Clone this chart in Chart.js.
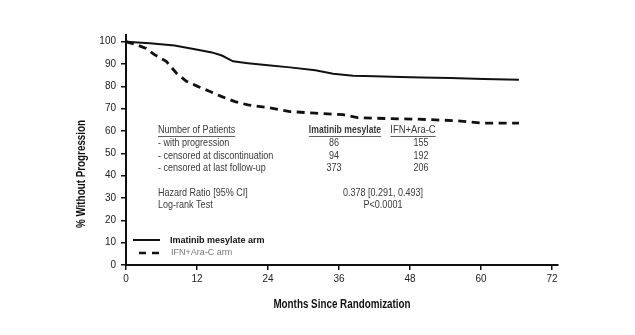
<!DOCTYPE html>
<html>
<head>
<meta charset="utf-8">
<script src="https://cdn.jsdelivr.net/npm/chart.js"></script>
<style>
  html, body { margin: 0; padding: 0; background: #fff; }
  canvas { display: block; }
</style>
</head>
<body>
<canvas id="km" width="635" height="335"></canvas>
<script>
// tick labels
const xTicks = [0, 12, 24, 36, 48, 60, 72];
const yTicks = [0, 10, 20, 30, 40, 50, 60, 70, 80, 90, 100];

// Imatinib mesylate arm
const imatinibMonths = [0, 4, 8.2, 12.1, 14.5, 16.2, 18.1, 20.6, 24, 27.7, 32, 35, 38.4, 42, 46.4, 50, 54.8, 60.4, 66.4];
const imatinibPct = [100, 99.3, 98.3, 96.4, 95.2, 93.8, 91.2, 90.4, 89.5, 88.5, 87.2, 85.6, 84.8, 84.5, 84.2, 84.0, 83.7, 83.3, 83.0];

// IFN+Ara-C arm
const ifnMonths = [0, 1.4, 3.4, 4.8, 6.8, 8.5, 10.2, 12.1, 14.2, 16.1, 18.4, 20.6, 24, 27.7, 32, 36.7, 39.1, 44, 49.3, 56, 60.4, 66.4];
const ifnPct = [100, 99, 97, 94.2, 91.2, 86, 82.3, 80, 77.7, 75.5, 73.2, 71.7, 70.5, 68.7, 68, 67.3, 66, 65.6, 65.3, 64.6, 63.5, 63.5];

// text
const xTitle = "Months Since Randomization";
const yTitle = "% Without Progression";
const seriesNames = ["Imatinib mesylate arm", "IFN+Ara-C arm"];
const tableHeads = ["Number of Patients", "Imatinib mesylate", "IFN+Ara-C"];
const tableRows = ["- with progression", "- censored at discontinuation", "- censored at last follow-up"];
const imatinibCounts = [86, 94, 373];
const ifnCounts = [155, 192, 206];
const statLabels = ["Hazard Ratio [95% CI]", "Log-rank Test"];
const statValues = ["0.378 [0.291, 0.493]", "P<0.0001"];

const plain = "'Liberation Sans', Arial, sans-serif";
const SQUEEZE = 0.82; // no narrow face installed, so squeeze Arial-metric text

const toPoints = (xs, ys) => xs.map((x, i) => ({ x: x, y: ys[i] }));

// draws condensed text, returns its width
function narrowText(ctx, text, x, y, align, underline) {
  const w = ctx.measureText(text).width * SQUEEZE;
  let x0 = x;
  if (align === "center") x0 = x - w / 2;
  if (align === "right") x0 = x - w;
  ctx.save();
  ctx.translate(x0, y);
  ctx.scale(SQUEEZE, 1);
  ctx.textAlign = "left";
  ctx.fillText(text, 0, 0);
  ctx.restore();
  if (underline) ctx.fillRect(x0, y + 6, w, 0.8);
  return w;
}

const annotations = {
  id: "annotations",
  afterDraw(chart) {
    const ctx = chart.ctx;
    ctx.save();
    ctx.textBaseline = "middle";

    // axis titles
    ctx.fillStyle = "#111";
    ctx.font = "bold 12px " + plain;
    narrowText(ctx, xTitle, 342, 305, "center");
    ctx.save();
    ctx.translate(82, 174);
    ctx.rotate(-Math.PI / 2);
    narrowText(ctx, yTitle, 0, 0, "center");
    ctx.restore();

    // table
    ctx.fillStyle = "#3a3a3a";
    ctx.font = "11px " + plain;
    narrowText(ctx, tableHeads[0], 158, 130, "left", true);
    ctx.font = "bold 10.5px " + plain;
    narrowText(ctx, tableHeads[1], 345, 130, "center", true);
    ctx.font = "11.5px " + plain;
    narrowText(ctx, tableHeads[2], 413, 130, "center", true);

    ctx.font = "11px " + plain;
    tableRows.forEach((r, i) => {
      const y = 143 + i * 12.5;
      narrowText(ctx, r, 158, y, "left");
      narrowText(ctx, String(imatinibCounts[i]), 334, y, "center");
      narrowText(ctx, String(ifnCounts[i]), 421, y, "center");
    });
    statLabels.forEach((s, i) => {
      const y = 192.5 + i * 12.5;
      narrowText(ctx, s, 158, y, "left");
      narrowText(ctx, statValues[i], 383, y, "center");
    });

    // legend
    ctx.strokeStyle = "#111";
    ctx.lineWidth = 2;
    ctx.beginPath();
    ctx.moveTo(133, 240);
    ctx.lineTo(160, 240);
    ctx.stroke();
    ctx.lineWidth = 2.5;
    ctx.setLineDash([7, 6]);
    ctx.beginPath();
    ctx.moveTo(139, 253);
    ctx.lineTo(160, 253);
    ctx.stroke();
    ctx.setLineDash([]);

    ctx.textAlign = "left";
    ctx.fillStyle = "#111";
    ctx.font = "bold 9px " + plain;
    ctx.fillText(seriesNames[0], 170, 241);
    ctx.fillStyle = "#777";
    ctx.font = "9px " + plain;
    ctx.fillText(seriesNames[1], 171, 253);
    ctx.restore();
  }
};

new Chart(document.getElementById("km"), {
  type: "line",
  data: {
    datasets: [
      {
        label: seriesNames[0],
        data: toPoints(imatinibMonths, imatinibPct),
        borderColor: "#111",
        borderWidth: 2,
        pointRadius: 0,
        tension: 0,
      },
      {
        label: seriesNames[1],
        data: toPoints(ifnMonths, ifnPct),
        borderColor: "#111",
        borderWidth: 2.8,
        borderDash: [8, 5.5],
        pointRadius: 0,
        tension: 0,
      },
    ],
  },
  options: {
    responsive: false,
    animation: false,
    layout: { padding: { left: 73, top: 35, right: 77, bottom: 19 } },
    plugins: {
      legend: { display: false },
      tooltip: { enabled: false },
    },
    scales: {
      x: {
        type: "linear",
        min: 0,
        max: 73,
        afterBuildTicks: (axis) => { axis.ticks = xTicks.map((v) => ({ value: v })); },
        afterFit: (axis) => { axis.height = 51; },
        grid: { drawOnChartArea: false, drawTicks: true, tickLength: 5, color: "#111", lineWidth: 1.5 },
        border: { color: "#111", width: 2 },
        ticks: { color: "#222", font: { family: plain, size: 10 }, padding: 3, maxRotation: 0 },
      },
      y: {
        min: 0,
        max: 103,
        afterBuildTicks: (axis) => { axis.ticks = yTicks.map((v) => ({ value: v })); },
        afterFit: (axis) => { axis.width = 53; },
        grid: { drawOnChartArea: false, drawTicks: true, tickLength: 5, color: "#111", lineWidth: 1.5 },
        border: { color: "#111", width: 2 },
        ticks: { color: "#222", font: { family: plain, size: 10 }, padding: 5 },
      },
    },
  },
  plugins: [annotations],
});
</script>
</body>
</html>
